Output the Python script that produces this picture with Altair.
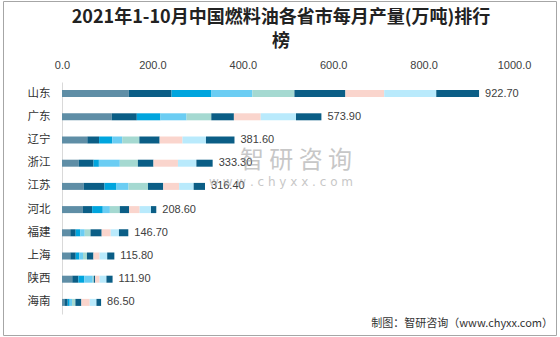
import altair as alt
import pandas as pd

provinces = ["山东", "广东", "辽宁", "浙江", "江苏", "河北", "福建", "上海", "陕西", "海南"]
months = ["1-2月", "3月", "4月", "5月", "6月", "7月", "8月", "9月", "10月"]
colors = ["#5f8ea6", "#0b5e86", "#00a5de", "#6bcdf3", "#a5d9d1", "#0b5e86", "#fad5cd", "#b9eafc", "#0b5e86"]

shandong = [147.8, 94.6, 87.4, 91.4, 93.0, 112.8, 85.8, 115.2, 94.7]
guangdong = [110.1, 55.4, 52.3, 57.8, 54.7, 50.0, 59.3, 78.1, 56.2]
liaoning = [56.0, 26.0, 29.2, 22.1, 37.8, 44.9, 50.5, 52.0, 63.1]
zhejiang = [36.9, 32.9, 11.8, 46.3, 40.0, 34.5, 54.1, 40.8, 36.0]
jiangsu = [47.8, 46.2, 26.6, 26.6, 43.1, 33.7, 35.2, 32.1, 25.1]
hebei = [46.3, 20.4, 23.5, 15.7, 22.0, 20.4, 23.5, 25.1, 11.7]
fujian = [18.3, 12.0, 10.4, 9.6, 12.8, 24.7, 19.9, 18.3, 20.7]
shanghai = [18.4, 12.0, 8.0, 8.0, 8.8, 14.4, 13.6, 16.8, 15.8]
shaanxi = [22.7, 13.6, 12.9, 18.9, 2.3, 3.0, 9.8, 15.1, 13.6]
hainan = [5.2, 7.4, 4.4, 5.2, 7.4, 13.3, 18.5, 14.8, 10.3]
totals = [922.7, 573.9, 381.6, 333.3, 316.4, 208.6, 146.7, 115.8, 111.9, 86.5]

series = [shandong, guangdong, liaoning, zhejiang, jiangsu, hebei, fujian, shanghai, shaanxi, hainan]

rows = []
for p, vals in zip(provinces, series):
    for i, (m, v) in enumerate(zip(months, vals)):
        rows.append({"province": p, "month": m, "idx": i, "value": v})
df = pd.DataFrame(rows)
df_tot = pd.DataFrame({"province": provinces, "total": totals})

W, H = 452, 232
PL, PT = 62, 82
CJK = "Noto Sans CJK SC"

yenc = alt.Y("province:N", sort=provinces,
             scale=alt.Scale(paddingInner=0, paddingOuter=0),
             axis=alt.Axis(title=None, ticks=False, domain=True, domainColor="#d9d9d9",
                           labelFont=CJK, labelFontSize=11.5, labelColor="#333333",
                           labelPadding=12))

bars = alt.Chart(df).mark_bar(size=7).encode(
    x=alt.X("value:Q", stack="zero",
            scale=alt.Scale(domain=[0, 1000], nice=False),
            axis=alt.Axis(orient="top", title=None, values=[0, 200, 400, 600, 800, 1000],
                          format=".1f", ticks=False, domain=False, grid=False,
                          labelFlush=False, labelOverlap=False,
                          labelFont="Liberation Sans", labelFontSize=11, labelColor="#404040",
                          labelPadding=12)),
    y=yenc,
    color=alt.Color("month:N", scale=alt.Scale(domain=months, range=colors), legend=None),
    order=alt.Order("idx:Q", sort="ascending"),
)

labels = alt.Chart(df_tot).mark_text(align="left", baseline="middle", dx=6,
                                     font="Liberation Sans", fontSize=11, color="#404040").encode(
    x=alt.X("total:Q"),
    y=alt.Y("province:N", sort=provinces),
    text=alt.Text("total:Q", format=".2f"),
)

one = pd.DataFrame({"a": [1]})

wm1 = alt.Chart(one).mark_text(font=CJK, fontSize=24, color="#9a9a9a", opacity=0.55,
                               align="center", baseline="middle").encode(
    x=alt.value(296 - PL), y=alt.value(161 - PT), text=alt.value("智 研 咨 询"))
wm2 = alt.Chart(one).mark_text(font="DejaVu Sans", fontSize=12, color="#9a9a9a", opacity=0.55,
                               align="center", baseline="middle").encode(
    x=alt.value(281 - PL), y=alt.value(182 - PT), text=alt.value("w w w . c h y x x . c o m"))

title1 = alt.Chart(one).mark_text(font=CJK, fontSize=18, fontWeight="bold", color="#222222",
                                  align="center", baseline="middle").encode(
    x=alt.value(281 - PL), y=alt.value(18 - PT),
    text=alt.value("2021年1-10月中国燃料油各省市每月产量(万吨)排行"))
title2 = alt.Chart(one).mark_text(font=CJK, fontSize=18, fontWeight="bold", color="#222222",
                                  align="center", baseline="middle").encode(
    x=alt.value(281 - PL), y=alt.value(42 - PT), text=alt.value("榜"))

footer = alt.Chart(one).mark_text(font=CJK, fontSize=11, color="#333333",
                                  align="right", baseline="middle").encode(
    x=alt.value(553 - PL), y=alt.value(324 - PT), text=alt.value("制图：智研咨询（www.chyxx.com）"))

border = alt.Chart(one).mark_rect(fillOpacity=0, stroke="#a6a6a6", strokeWidth=1).encode(
    x=alt.value(3.5 - PL), x2=alt.value(556.5 - PL),
    y=alt.value(1.5 - PT), y2=alt.value(335.5 - PT))

chart = alt.layer(bars, labels, wm1, wm2, title1, title2, footer, border).properties(
    width=W, height=H,
    autosize=alt.AutoSizeParams(type="none"),
    padding={"left": PL, "top": PT, "right": 560 - PL - W, "bottom": 337 - PT - H},
    background="white",
).configure_view(stroke=None)

chart.save("out.html", embed_options={"renderer": "svg", "actions": False})
